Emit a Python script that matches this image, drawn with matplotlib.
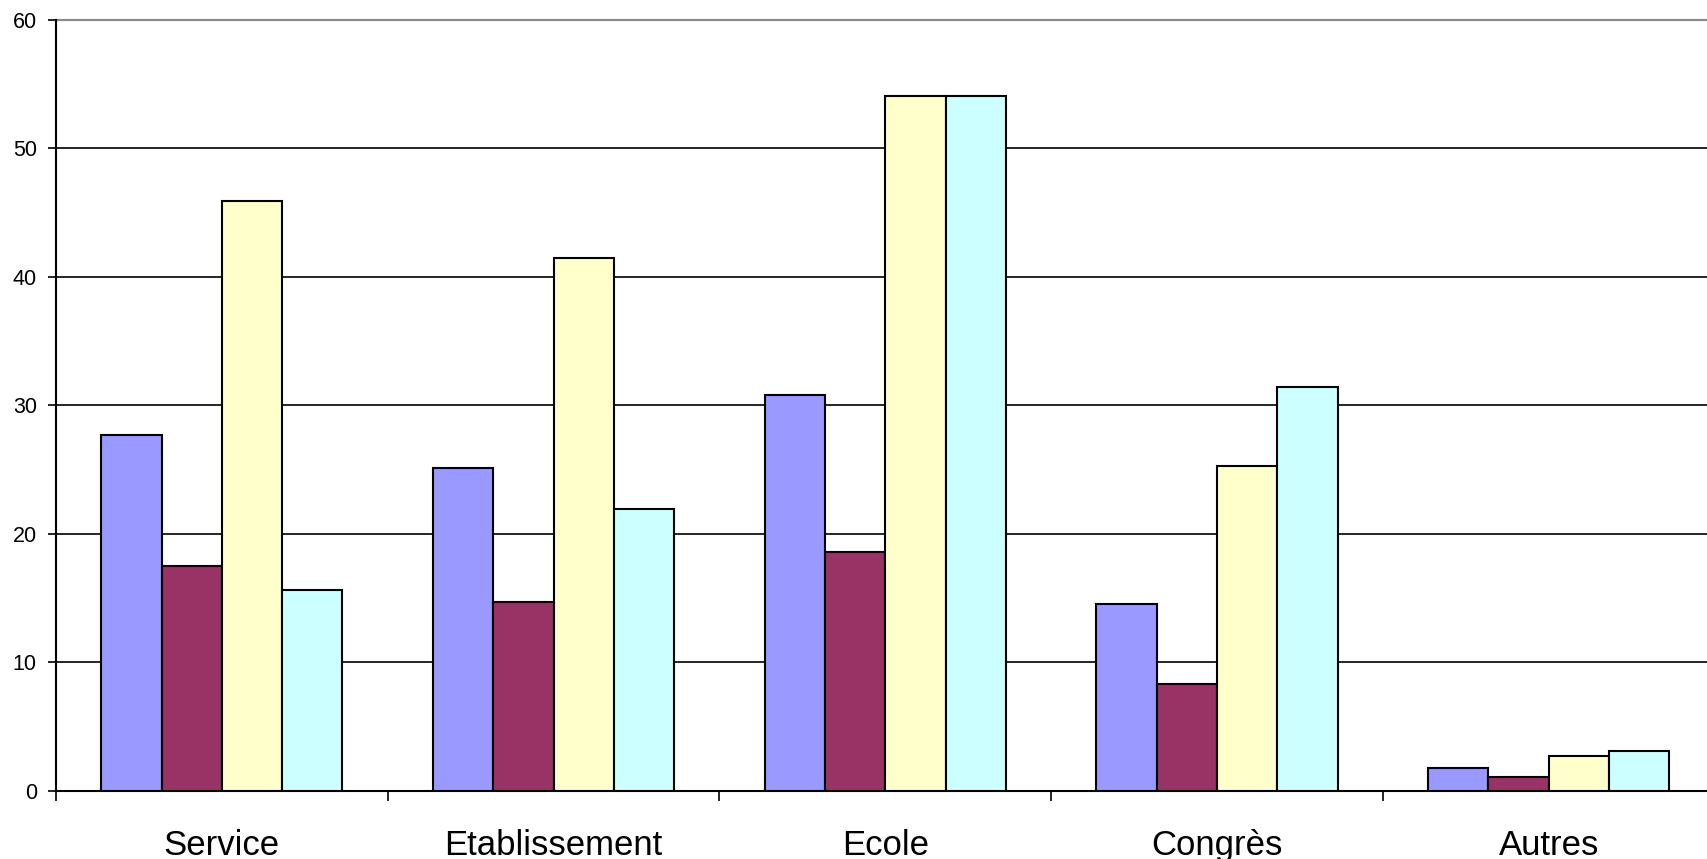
import numpy as np
import matplotlib
matplotlib.use("Agg")
import matplotlib.pyplot as plt

# Data
categories = ["Service", "Etablissement", "Ecole", "Congrès", "Autres"]
serie_1 = [27.7, 25.1, 30.8, 14.5, 1.8]
serie_2 = [17.5, 14.7, 18.6, 8.3, 1.1]
serie_3 = [45.9, 41.5, 54.1, 25.3, 2.7]
serie_4 = [15.6, 21.9, 54.1, 31.4, 3.1]
colors = ["#9999FF", "#993366", "#FFFFCC", "#CCFFFF"]
y_ticks = [0, 10, 20, 30, 40, 50, 60]

plt.rcParams['font.family'] = ['Liberation Sans', 'DejaVu Sans']

fig = plt.figure(figsize=(17.08, 8.59), dpi=100)
W, H = 1708, 859
# axes position in pixels (the plot runs a bit past the right edge, like the reference)
left_px, right_px, base_px, top_px = 56, 1714.5, 790.7, 20
ax = fig.add_axes([left_px / W, (H - base_px) / H,
                   (right_px - left_px) / W, (base_px - top_px) / H])

# bar layout: Excel gap width 150%
n_series = 4
bar_w = 1.0 / (n_series + 1.5)
x = np.arange(len(categories)) + 0.5
all_series = [serie_1, serie_2, serie_3, serie_4]
for i, (vals, col) in enumerate(zip(all_series, colors)):
    offset = (i - (n_series - 1) / 2) * bar_w
    ax.bar(x + offset, vals, width=bar_w, color=col, edgecolor="black",
           linewidth=1.5, zorder=3)

ax.set_xlim(0, len(categories))
ax.set_ylim(0, 60)

# gridlines
for v in y_ticks[1:-1]:
    ax.axhline(v, color="black", linewidth=1.2, zorder=1)
ax.axhline(60, color="#8c8c8c", linewidth=1.6, zorder=1, clip_on=False)

for s in ["top", "right"]:
    ax.spines[s].set_visible(False)
ax.spines["left"].set_linewidth(1.5)
ax.spines["bottom"].set_linewidth(1.5)

ax.set_yticks(y_ticks)
ax.tick_params(axis="y", direction="out", length=5.8, width=1.2, pad=8.0,
               labelsize=15.5)

ax.set_xticks(np.arange(len(categories) + 1))
ax.set_xticklabels([])
ax.tick_params(axis="x", which="major", direction="out", length=7.5, width=1.2)
ax.set_xticks(x, minor=True)
ax.set_xticklabels(categories, minor=True)
ax.tick_params(axis="x", which="minor", length=0, pad=27.5, labelsize=25)

fig.savefig("out.png", dpi=100)
